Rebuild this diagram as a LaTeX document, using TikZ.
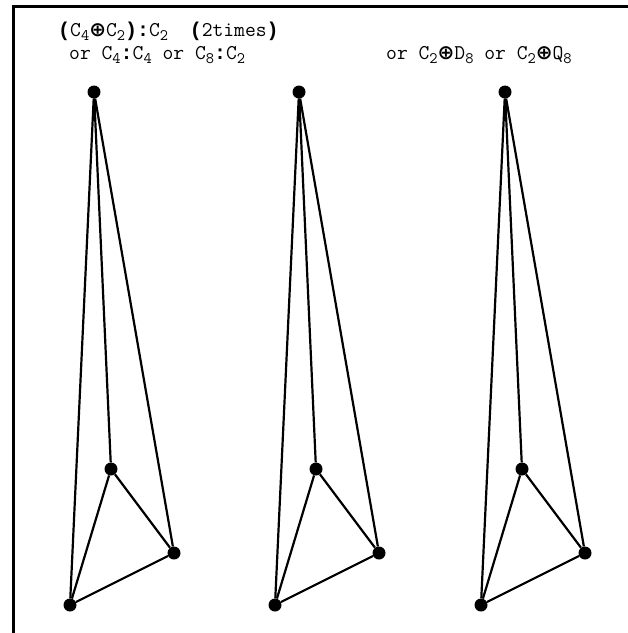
\documentclass[tikz,border=0pt]{standalone}
\usepackage{fontspec}
\newfontfamily\symfont{DejaVu Sans}
\newfontfamily\monobold{Liberation Mono}
\newcommand{\dsum}{{\symfont\bfseries\fontsize{20}{22}\selectfont ⊕}}
\newcommand{\bp}[1]{{\monobold\bfseries\fontsize{20}{22}\selectfont #1}}
\newcommand{\sbs}[1]{\raisebox{-0.2em}{\fontsize{16}{16}\selectfont #1}}
\usetikzlibrary{positioning}

\begin{document}
\begin{tikzpicture}[x=1pt, y=-1pt,
  vtx/.style={circle, fill=black, inner sep=0pt, minimum width=12pt, minimum height=13pt},
  edge/.style={line width=2.2pt, black},
  lbl/.style={anchor=base west, inner sep=0pt, font=\ttfamily\fontsize{21}{22}\selectfont}]
\useasboundingbox (0,0) rectangle (628,633);
\draw[line width=3pt] (13,633) -- (13,6) -- (628,6);
% labels
\node[lbl] (l1) at (58,36) {\bp{(}C\sbs{4}\dsum C\sbs{2}\bp{)}\bp{:}C\sbs{2}\ \ \bp{(}2times\bp{)}};
\node[lbl] (l2) at (69,59) {or C\sbs{4}\bp{:}C\sbs{4} or C\sbs{8}\bp{:}C\sbs{2}};
\node[lbl] (l3) at (386,59) {or C\sbs{2}\dsum D\sbs{8} or C\sbs{2}\dsum Q\sbs{8}};
% three graphs
\foreach \i/\dx in {1/0,2/205,3/411} {
  \node[vtx] (t\i) at (94+\dx,92) {};
  \node[vtx] (m\i) at (111+\dx,469) {};
  \node[vtx] (r\i) at (174+\dx,553) {};
  \node[vtx] (b\i) at (70+\dx,605) {};
  \foreach \x/\y in {t/m,t/r,t/b,m/r,m/b,r/b} \draw[edge] (\x\i) -- (\y\i);
}
\end{tikzpicture}
\end{document}
